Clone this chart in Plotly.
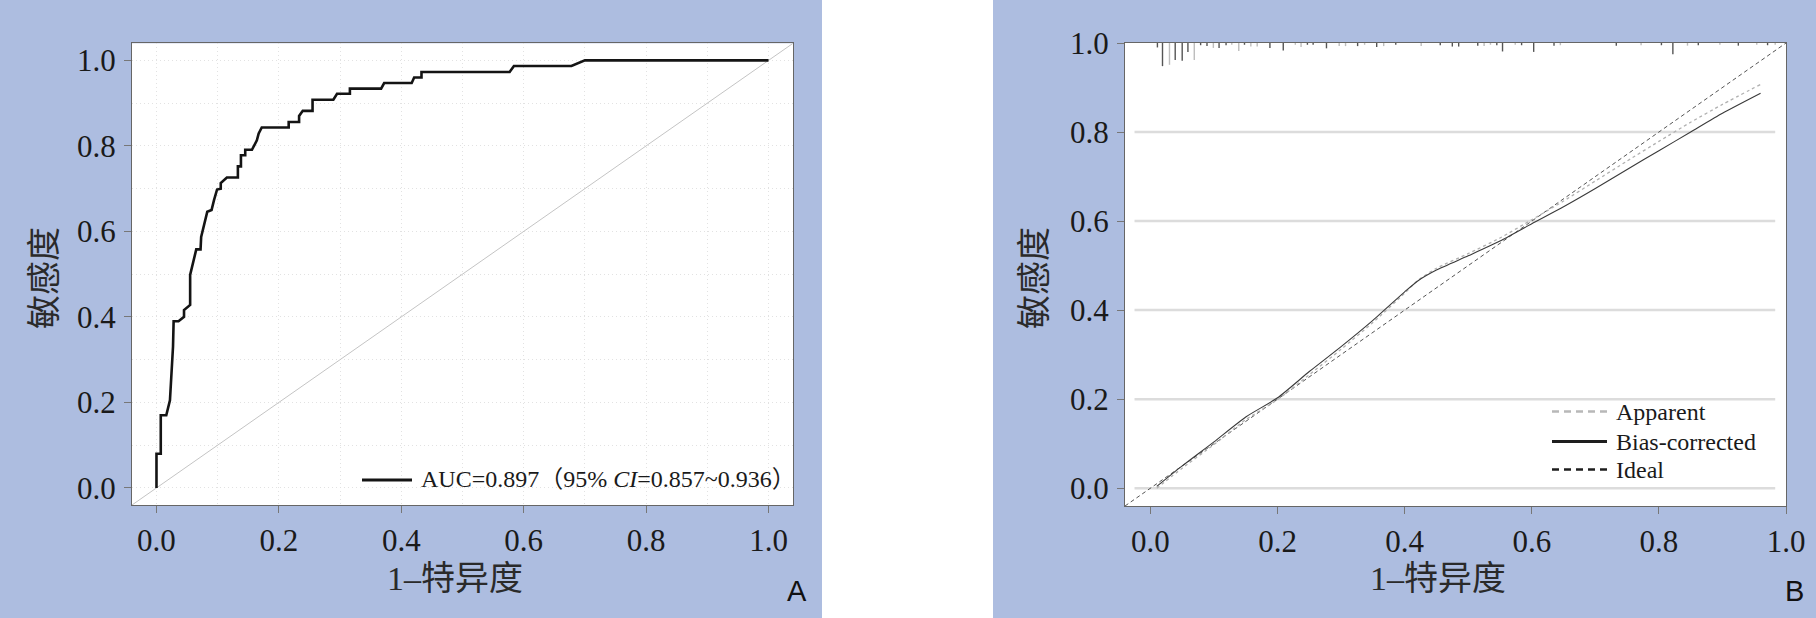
import plotly.graph_objects as go

W, H = 1816, 618

# ---------------- data ----------------
# Panel A: ROC curve (1 - specificity, sensitivity)
fpr = [0.000, 0.000, 0.007, 0.007, 0.016, 0.022, 0.027, 0.028, 0.036, 0.045,
       0.045, 0.055, 0.055, 0.065, 0.072, 0.073, 0.083, 0.090, 0.094, 0.099,
       0.105, 0.105, 0.115, 0.133, 0.133, 0.138, 0.138, 0.145, 0.145, 0.156,
       0.164, 0.167, 0.172, 0.216, 0.216, 0.233, 0.233, 0.239, 0.255, 0.255,
       0.289, 0.295, 0.316, 0.316, 0.367, 0.372, 0.417, 0.421, 0.433, 0.433,
       0.577, 0.584, 0.678, 0.700, 1.000]
tpr = [0.000, 0.080, 0.080, 0.170, 0.170, 0.205, 0.330, 0.390, 0.390, 0.400,
       0.416, 0.428, 0.498, 0.558, 0.558, 0.587, 0.646, 0.650, 0.673, 0.698,
       0.700, 0.713, 0.726, 0.726, 0.752, 0.752, 0.778, 0.778, 0.791, 0.791,
       0.813, 0.829, 0.843, 0.843, 0.856, 0.856, 0.870, 0.882, 0.882, 0.908,
       0.908, 0.922, 0.922, 0.934, 0.934, 0.947, 0.947, 0.960, 0.960, 0.973,
       0.973, 0.987, 0.987, 1.000, 1.000]
auc_label = "AUC=0.897（95% <i>CI</i>=0.857~0.936）"

# Panel B: calibration curve
cal_x = [0.01, 0.05, 0.10, 0.15, 0.20, 0.25, 0.30, 0.35, 0.40, 0.42, 0.45,
         0.50, 0.55, 0.60, 0.65, 0.70, 0.75, 0.80, 0.85, 0.90, 0.96]
cal_bias = [0.004, 0.050, 0.104, 0.160, 0.203, 0.262, 0.318, 0.377, 0.441, 0.465, 0.490,
            0.522, 0.555, 0.594, 0.632, 0.673, 0.716, 0.758, 0.800, 0.842, 0.887]
cal_apparent = [0.000, 0.045, 0.098, 0.154, 0.199, 0.255, 0.312, 0.372, 0.438, 0.466, 0.494,
                0.527, 0.562, 0.603, 0.645, 0.690, 0.735, 0.779, 0.822, 0.862, 0.907]

# rug of predicted values (position, relative spike height)
rug_dark_x = [0.011, 0.019, 0.039, 0.050, 0.059, 0.079, 0.089, 0.108, 0.119, 0.148,
              0.188, 0.209, 0.247, 0.256, 0.277, 0.326, 0.356, 0.386, 0.456, 0.475,
              0.485, 0.515, 0.545, 0.554, 0.584, 0.603, 0.635, 0.733, 0.804, 0.822,
              0.862, 0.925, 0.971]
rug_dark_h = [0.010, 0.052, 0.038, 0.040, 0.020, 0.005, 0.007, 0.011, 0.005, 0.004,
              0.011, 0.017, 0.004, 0.004, 0.012, 0.007, 0.009, 0.004, 0.005, 0.008,
              0.008, 0.006, 0.005, 0.019, 0.005, 0.020, 0.006, 0.006, 0.005, 0.025,
              0.005, 0.006, 0.005]
rug_light_x = [0.030, 0.069, 0.099, 0.128, 0.139, 0.158, 0.168, 0.228, 0.237, 0.297,
               0.307, 0.337, 0.367, 0.426, 0.525, 0.535, 0.574, 0.645, 0.772, 0.845,
               0.896, 0.954, 0.983]
rug_light_h = [0.049, 0.038, 0.011, 0.004, 0.018, 0.008, 0.008, 0.004, 0.009, 0.007,
               0.007, 0.004, 0.007, 0.007, 0.007, 0.004, 0.004, 0.005, 0.005, 0.006,
               0.004, 0.004, 0.004]

tick_vals = [0.0, 0.2, 0.4, 0.6, 0.8, 1.0]
grid_b_vals = [0.0, 0.2, 0.4, 0.6, 0.8]
range_a = [-0.04, 1.04]
range_b = [-0.04, 1.00]
legend_b = [("Apparent", "#b8b8b8", "dash", 2.5),
            ("Bias-corrected", "#1e1e1e", "solid", 3),
            ("Ideal", "#1e1e1e", "dash", 2.5)]

# ---------------- helpers ----------------
BLUE = "#adbde0"
SERIF = "Liberation Serif, Times New Roman, Noto Sans CJK SC, serif"
CJK = "Liberation Serif, Noto Sans CJK SC, serif"


def px(x):
    return x / W


def py(y):
    return 1 - y / H


def spikes(xs, hs):
    X, Y = [], []
    for x, h in zip(xs, hs):
        X += [x, x, None]
        Y += [1.0, 1.0 - h, None]
    return X, Y


fig = go.Figure()

# ---- panel A ----
fig.add_trace(go.Scatter(x=range_a, y=range_a, mode="lines",
                         line=dict(color="#c4c4c4", width=1),
                         xaxis="x", yaxis="y", hoverinfo="skip"))
fig.add_trace(go.Scatter(x=fpr, y=tpr, mode="lines",
                         line=dict(color="#141414", width=2.6),
                         xaxis="x", yaxis="y"))

# ---- panel B ----
fig.add_trace(go.Scatter(x=range_b, y=range_b, mode="lines",
                         line=dict(color="#555555", width=1, dash="4px,3px"),
                         xaxis="x2", yaxis="y2", hoverinfo="skip"))
fig.add_trace(go.Scatter(x=cal_x, y=cal_apparent, mode="lines",
                         line=dict(color="#b0b0b0", width=1.3, dash="dot", shape="spline",
                                   smoothing=0.6),
                         xaxis="x2", yaxis="y2"))
fig.add_trace(go.Scatter(x=cal_x, y=cal_bias, mode="lines",
                         line=dict(color="#3a3a3a", width=1.1, shape="spline", smoothing=0.6),
                         xaxis="x2", yaxis="y2"))
rx, ry = spikes(rug_light_x, rug_light_h)
fig.add_trace(go.Scatter(x=rx, y=ry, mode="lines", line=dict(color="#bdbdbd", width=1.4),
                         xaxis="x2", yaxis="y2", hoverinfo="skip"))
rx, ry = spikes(rug_dark_x, rug_dark_h)
fig.add_trace(go.Scatter(x=rx, y=ry, mode="lines", line=dict(color="#555555", width=1.4),
                         xaxis="x2", yaxis="y2", hoverinfo="skip"))

tickfont = dict(family=SERIF, size=31, color="#1a1a1a")
common = dict(ticks="outside", ticklen=7, tickcolor="#777777", tickwidth=1.2,
              showline=True, mirror=True, linecolor="#666666", linewidth=1.3,
              zeroline=False, tickfont=tickfont, tickformat=".1f", automargin=False,
              tickmode="array", tickvals=tick_vals, fixedrange=True)
grid_a = dict(showgrid=True, gridcolor="#e2e2e2", griddash="1px,3px", gridwidth=1,
              minor=dict(tick0=0, dtick=0.1, showgrid=True, gridcolor="#e2e2e2",
                         griddash="1px,3px", gridwidth=1, ticks=""))

shapes = [
    dict(type="rect", xref="paper", yref="paper", x0=px(822), x1=px(993), y0=0, y1=1,
         fillcolor="white", line=dict(width=0), layer="below"),
]
for v in grid_b_vals:
    shapes.append(dict(type="line", xref="x2", yref="y2", x0=-0.025, x1=0.983, y0=v, y1=v,
                       line=dict(color="#dcdcdc", width=2.5), layer="below"))

annotations = []
# legend A
shapes.append(dict(type="line", xref="paper", yref="paper", x0=px(362), x1=px(412),
                   y0=py(480), y1=py(480), line=dict(color="#141414", width=3)))
annotations.append(dict(xref="paper", yref="paper", x=px(419), y=py(479), text=auc_label,
                        showarrow=False, xanchor="left", yanchor="middle",
                        font=dict(family=CJK, size=24, color="#1a1a1a")))
# legend B
for i, (name, col, dash, wd) in enumerate(legend_b):
    yy = [411.5, 441.5, 469.5][i]
    shapes.append(dict(type="line", xref="paper", yref="paper", x0=px(1552), x1=px(1607),
                       y0=py(yy), y1=py(yy),
                       line=dict(color=col, width=wd, dash="7px,5px" if dash == "dash" else "solid")))
    annotations.append(dict(xref="paper", yref="paper", x=px(1614), y=py(yy), text=name,
                            showarrow=False, xanchor="left", yanchor="middle",
                            font=dict(family=SERIF, size=24, color="#1a1a1a")))

# axis titles
for cx, cy in [(455, 578), (1438, 578)]:
    annotations.append(dict(xref="paper", yref="paper", x=px(cx), y=py(cy), text="1–特异度",
                            showarrow=False, xanchor="center", yanchor="middle",
                            font=dict(family=CJK, size=34, color="#2a2a2a")))
for cx, cy in [(44, 278), (1034, 278)]:
    annotations.append(dict(xref="paper", yref="paper", x=px(cx), y=py(cy), text="敏感度",
                            showarrow=False, xanchor="center", yanchor="middle", textangle=-90,
                            font=dict(family=CJK, size=34, color="#2a2a2a")))
# panel letters
for lab, cx in [("A", 797), ("B", 1794)]:
    annotations.append(dict(xref="paper", yref="paper", x=px(cx), y=py(591), text=lab,
                            showarrow=False, xanchor="center", yanchor="middle",
                            font=dict(family="Liberation Sans, Arial, sans-serif", size=29,
                                      color="#111111")))

fig.update_layout(
    width=W, height=H, margin=dict(l=0, r=0, t=0, b=0, autoexpand=False),
    paper_bgcolor=BLUE, plot_bgcolor="white", showlegend=False,
    xaxis=dict(domain=[px(132), px(793)], range=range_a, anchor="y",
               ticklabelstandoff=1, **common, **grid_a),
    yaxis=dict(domain=[py(505), py(43.3)], range=range_a, anchor="x",
               ticklabelstandoff=2, **common, **grid_a),
    xaxis2=dict(domain=[px(1125), px(1786)], range=range_b, anchor="y2",
                showgrid=False, ticklabelstandoff=1, **common),
    yaxis2=dict(domain=[py(506), py(43)], range=range_b, anchor="x2",
                showgrid=False, ticklabelstandoff=2, **common),
    shapes=shapes, annotations=annotations,
)

fig.write_html("out.html", config={"displayModeBar": False},
               post_script="document.body.style.margin='0';document.body.style.overflow='hidden';")
